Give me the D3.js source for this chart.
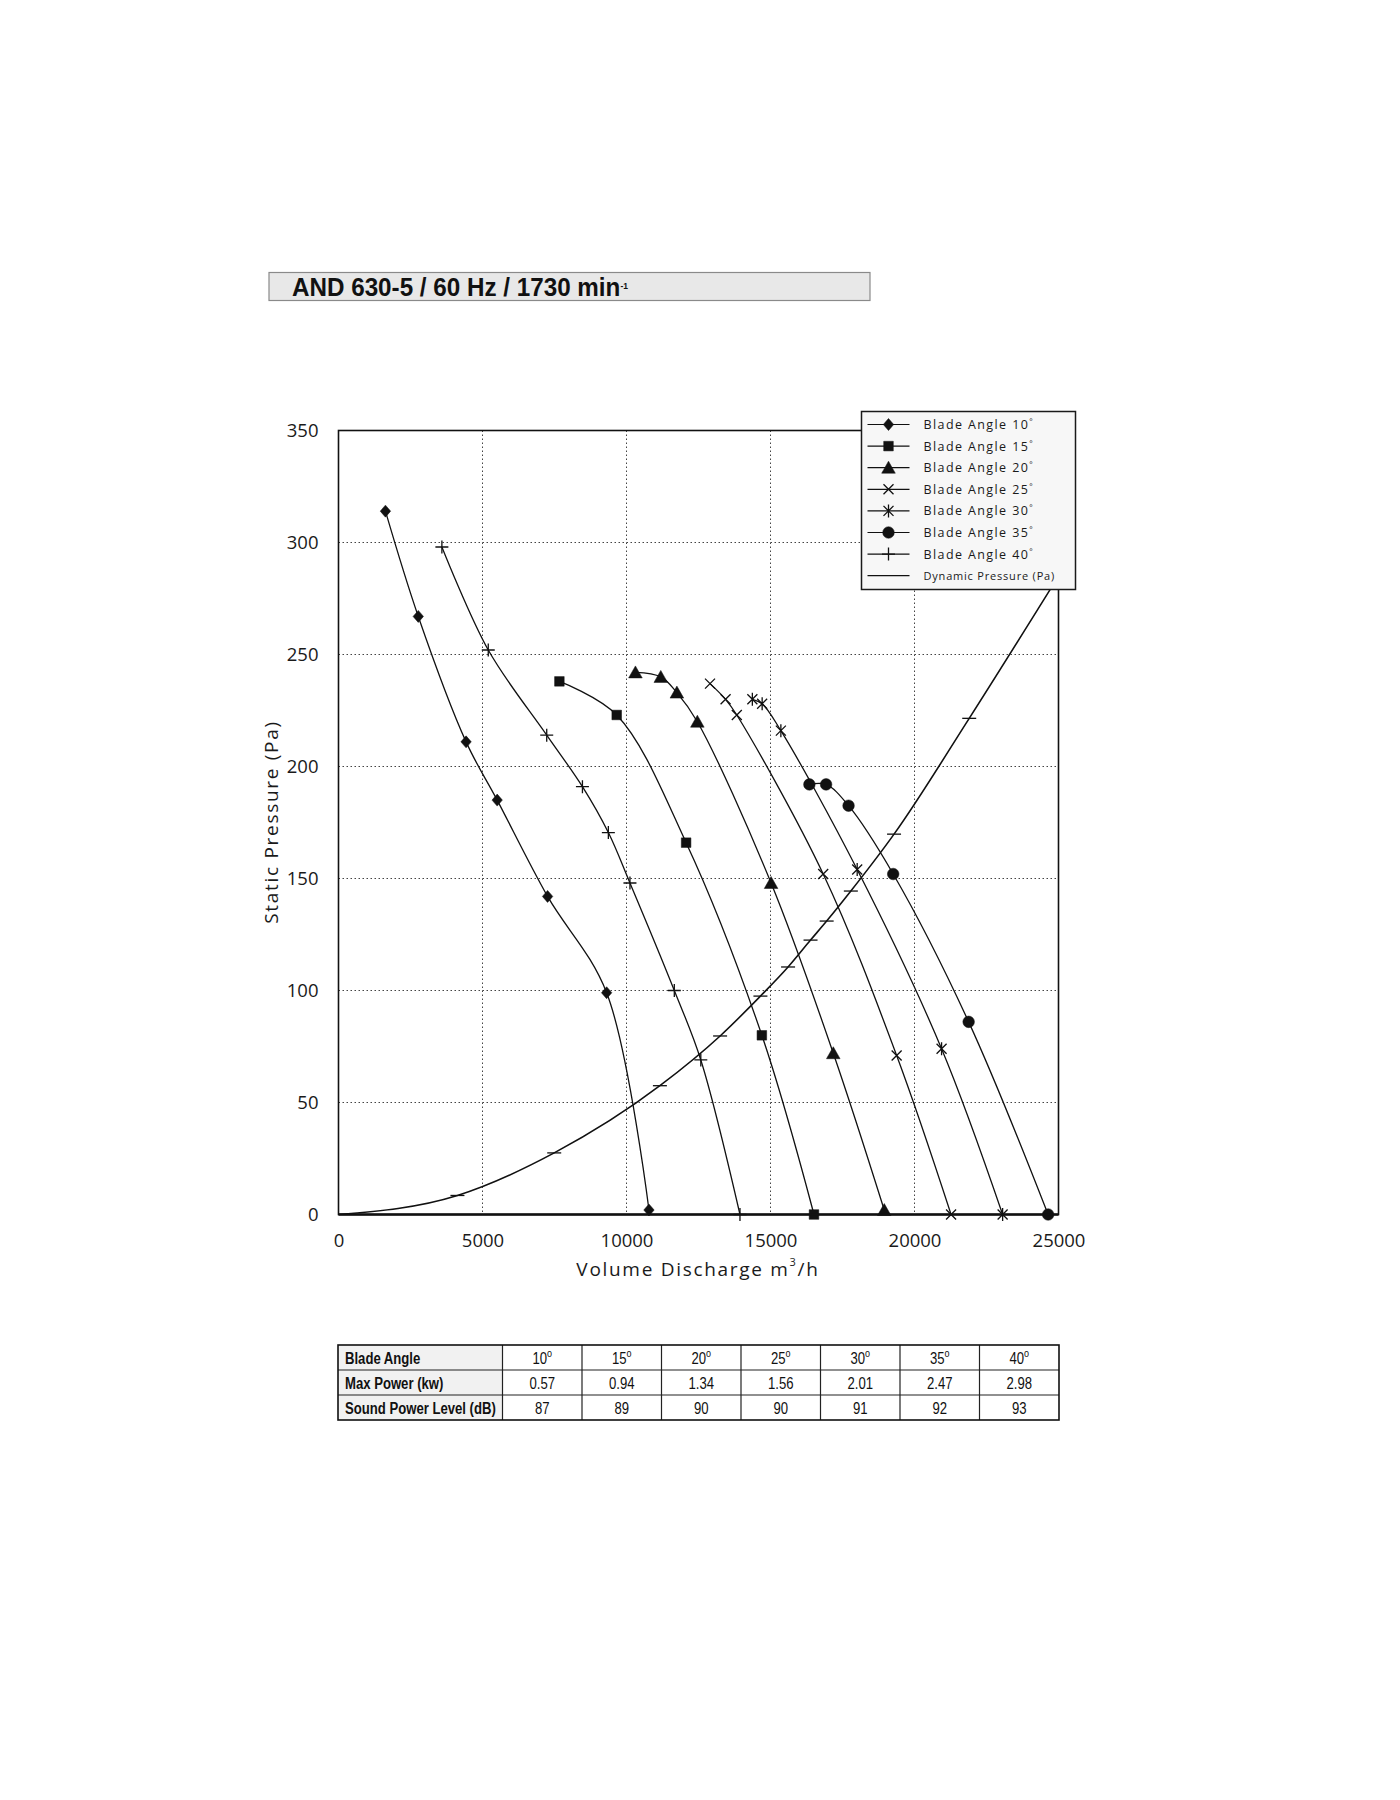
<!DOCTYPE html>
<html>
<head>
<meta charset="utf-8">
<script src="https://cdn.jsdelivr.net/npm/d3@7"></script>
<style>
  body { margin: 0; background: #fff; }
  svg { display: block; }
</style>
</head>
<body>
<svg id="chart" width="1400" height="1800"></svg>
<script>
// Volume discharge (m3/h) / static pressure (Pa)
const blade10 = [[1630, 314], [2770, 267], [4430, 211], [5510, 185], [7260, 142], [9310, 99], [10780, 2]];
const blade15 = [[7670, 238], [9660, 223], [12070, 166], [14700, 80], [16510, 0]];
const blade20 = [[10310, 242], [11190, 240], [11750, 233], [12460, 220], [15020, 148], [17180, 72], [18950, 2]];
const blade25 = [[12900, 237], [13440, 230], [13830, 223], [16830, 152], [19380, 71], [21270, 0]];
const blade30 = [[14370, 230], [14710, 228], [15360, 216], [18010, 154], [20940, 74], [23060, 0]];
const blade35 = [[16350, 192], [16930, 192], [17710, 182.5], [19260, 152], [21880, 86], [24640, 0]];
const blade40 = [[3590, 298], [5200, 252], [7230, 214], [8470, 191], [9370, 170.5], [10120, 148],
  [11660, 100], [12580, 69], [13940, 0]];
const dynamicPressure = [[0, 0], [4130, 8.5], [7490, 27.5], [11160, 57.5], [13250, 79.7], [14650, 97.5],
  [15610, 110.5], [16390, 122.5], [16950, 131], [17790, 144.4], [19290, 169.8], [21900, 221.5], [25000, 285]];

const seriesNames = ['Blade Angle 10', 'Blade Angle 15', 'Blade Angle 20', 'Blade Angle 25',
  'Blade Angle 30', 'Blade Angle 35', 'Blade Angle 40'];
const seriesData = [blade10, blade15, blade20, blade25, blade30, blade35, blade40];
const seriesMarkers = ['diamond', 'square', 'triangle', 'cross', 'asterisk', 'circle', 'plus'];

const xTicks = [0, 5000, 10000, 15000, 20000, 25000];
const yTicks = [0, 50, 100, 150, 200, 250, 300, 350];

// table below the chart
const bladeAngles = ['10', '15', '20', '25', '30', '35', '40'];
const maxPower = ['0.57', '0.94', '1.34', '1.56', '2.01', '2.47', '2.98'];
const soundPower = ['87', '89', '90', '90', '91', '92', '93'];

const numFont = '"Open Sans", "DejaVu Sans", sans-serif';
const narrowFont = '"Liberation Sans Narrow", "Arial Narrow", "Liberation Sans", Arial, sans-serif';

const svg = d3.select('#chart');

const plot = {left: 338.5, right: 1058.5, top: 430.5, bottom: 1214.5};

const x = d3.scaleLinear().domain([0, 25000]).range([plot.left, plot.right]);
const y = d3.scaleLinear().domain([0, 350]).range([plot.bottom, plot.top]);

// --- title bar
const title = svg.append('g');
title.append('rect')
  .attr('x', 269).attr('y', 272.5)
  .attr('width', 601).attr('height', 28)
  .attr('fill', '#e8e8e8')
  .attr('stroke', '#8a8a8a')
  .attr('stroke-width', 1.2);
const titleText = title.append('text')
  .attr('transform', 'translate(292,296) scale(0.95,1)')
  .attr('font-family', narrowFont)
  .attr('font-weight', 'bold')
  .attr('font-size', 25.5)
  .attr('fill', '#111')
  .text('AND 630-5 / 60 Hz / 1730 min');
titleText.append('tspan')
  .attr('font-size', 9)
  .attr('dy', -7)
  .text('-1');

// --- grid
const grid = svg.append('g')
  .attr('stroke', '#444')
  .attr('stroke-width', 1)
  .attr('stroke-dasharray', '1.5,2.5');

grid.selectAll('.vgrid')
  .data(xTicks.slice(1, -1))
  .enter()
  .append('line')
  .attr('x1', (d) => x(d)).attr('x2', (d) => x(d))
  .attr('y1', plot.top).attr('y2', plot.bottom);

grid.selectAll('.hgrid')
  .data(yTicks.slice(1, -1))
  .enter()
  .append('line')
  .attr('x1', plot.left).attr('x2', plot.right)
  .attr('y1', (d) => y(d)).attr('y2', (d) => y(d));

// --- axes (labels only, frame drawn separately)
const xAxis = svg.append('g')
  .attr('transform', `translate(0,${plot.bottom})`)
  .call(d3.axisBottom(x).tickValues(xTicks).tickSize(0).tickPadding(19).tickFormat(d3.format('d')));
const yAxis = svg.append('g')
  .attr('transform', `translate(${plot.left},0)`)
  .call(d3.axisLeft(y).tickValues(yTicks).tickSize(0).tickPadding(20));

[xAxis, yAxis].forEach((axis) => {
  axis.select('.domain').remove();
  axis.selectAll('text')
    .attr('font-family', numFont)
    .attr('font-size', 18.5)
    .attr('fill', '#1a1a1a');
});

// axis titles
const xTitle = svg.append('text')
  .attr('x', 698).attr('y', 1276)
  .attr('text-anchor', 'middle')
  .attr('font-family', numFont)
  .attr('font-size', 19)
  .attr('letter-spacing', 1.7)
  .attr('fill', '#1a1a1a')
  .text('Volume Discharge m');
xTitle.append('tspan').attr('font-size', 11).attr('dy', -10).text('3');
xTitle.append('tspan').attr('dy', 10).text('/h');

svg.append('text')
  .attr('transform', 'translate(278,822) rotate(-90)')
  .attr('text-anchor', 'middle')
  .attr('font-family', numFont)
  .attr('font-size', 19)
  .attr('letter-spacing', 1.7)
  .attr('fill', '#1a1a1a')
  .text('Static Pressure (Pa)');

// --- curves
svg.append('defs')
  .append('clipPath')
  .attr('id', 'plot-cp')
  .append('rect')
  .attr('x', plot.left).attr('y', plot.top)
  .attr('width', plot.right - plot.left)
  .attr('height', plot.bottom - plot.top);

const bladeLine = d3.line()
  .x((d) => x(d[0]))
  .y((d) => y(d[1]))
  .curve(d3.curveCatmullRom.alpha(0.5));

const dynLine = d3.line()
  .x((d) => x(d[0]))
  .y((d) => y(d[1]))
  .curve(d3.curveMonotoneX);

const curves = svg.append('g').attr('clip-path', 'url(#plot-cp)');

curves.selectAll('.blade')
  .data(seriesData)
  .enter()
  .append('path')
  .attr('class', 'blade')
  .attr('d', bladeLine)
  .attr('fill', 'none')
  .attr('stroke', '#111')
  .attr('stroke-width', 1.3);

curves.append('path')
  .datum(dynamicPressure)
  .attr('d', dynLine)
  .attr('fill', 'none')
  .attr('stroke', '#111')
  .attr('stroke-width', 1.6);

// --- markers
function markerPath(type) {
  const p = d3.path();
  switch (type) {
    case 'diamond':
      p.moveTo(0, -6); p.lineTo(5.2, 0); p.lineTo(0, 6); p.lineTo(-5.2, 0); p.closePath();
      break;
    case 'square':
      p.rect(-4.8, -4.8, 9.6, 9.6);
      break;
    case 'triangle':
      p.moveTo(0, -6.5); p.lineTo(6.8, 5.5); p.lineTo(-6.8, 5.5); p.closePath();
      break;
    case 'circle':
      p.arc(0, 0, 5.8, 0, 2 * Math.PI);
      break;
    case 'cross':
      p.moveTo(-5, -5); p.lineTo(5, 5); p.moveTo(5, -5); p.lineTo(-5, 5);
      break;
    case 'asterisk':
      p.moveTo(-5, -5); p.lineTo(5, 5); p.moveTo(5, -5); p.lineTo(-5, 5);
      p.moveTo(0, -6.5); p.lineTo(0, 6.5);
      break;
    case 'plus':
      p.moveTo(-6.5, 0); p.lineTo(6.5, 0); p.moveTo(0, -6.5); p.lineTo(0, 6.5);
      break;
    case 'dash':
      p.moveTo(-7, 0); p.lineTo(7, 0);
      break;
  }
  return p.toString();
}
const filledMarkers = ['diamond', 'square', 'triangle', 'circle'];

function styleMarker(sel, type) {
  const filled = filledMarkers.includes(type);
  sel.attr('d', markerPath(type))
    .attr('fill', filled ? '#111' : 'none')
    .attr('stroke', '#111')
    .attr('stroke-width', filled ? 0.5 : 1.3);
}

seriesData.forEach((data, i) => {
  svg.append('g')
    .selectAll('path')
    .data(data)
    .enter()
    .append('path')
    .attr('transform', (d) => `translate(${x(d[0])},${y(d[1])})`)
    .call(styleMarker, seriesMarkers[i]);
});

svg.append('g')
  .selectAll('path')
  .data(dynamicPressure.slice(1, -1))
  .enter()
  .append('path')
  .attr('transform', (d) => `translate(${x(d[0])},${y(d[1])})`)
  .call(styleMarker, 'dash');

// --- plot frame
svg.append('rect')
  .attr('x', plot.left).attr('y', plot.top)
  .attr('width', plot.right - plot.left)
  .attr('height', plot.bottom - plot.top)
  .attr('fill', 'none')
  .attr('stroke', '#111')
  .attr('stroke-width', 1.6);
svg.append('line')
  .attr('x1', plot.left).attr('x2', plot.right)
  .attr('y1', plot.bottom).attr('y2', plot.bottom)
  .attr('stroke', '#111')
  .attr('stroke-width', 2.6);

// --- legend
const legend = svg.append('g').attr('transform', 'translate(861.5,411.5)');
legend.append('rect')
  .attr('width', 214).attr('height', 178)
  .attr('fill', '#f7f7f7')
  .attr('stroke', '#1a1a1a')
  .attr('stroke-width', 1.5);

const legendNames = seriesNames.concat(['Dynamic Pressure (Pa)']);
const legendMarkers = seriesMarkers.concat([null]);

const item = legend.selectAll('.item')
  .data(legendNames)
  .enter()
  .append('g')
  .attr('class', 'item')
  .attr('transform', (d, i) => `translate(0,${13 + i * 21.6})`);

item.append('line')
  .attr('x1', 6).attr('x2', 48)
  .attr('stroke', '#111')
  .attr('stroke-width', 1.2);

item.filter((d, i) => legendMarkers[i])
  .append('path')
  .attr('transform', 'translate(27,0)')
  .each(function(d, i) {
    // eslint-disable-next-line no-invalid-this
    d3.select(this).call(styleMarker, legendMarkers[i]);
  });

const legendText = item.append('text')
  .attr('x', 62).attr('y', 4.5)
  .attr('font-family', numFont)
  .attr('font-size', (d, i) => (legendMarkers[i] ? 12.5 : 11))
  .attr('letter-spacing', (d, i) => (legendMarkers[i] ? 1.4 : 0.8))
  .attr('fill', '#1a1a1a')
  .text((d) => d);
legendText.filter((d, i) => legendMarkers[i])
  .append('tspan')
  .attr('font-size', 8)
  .attr('dy', -5)
  .text('°');

// --- table
const table = svg.append('g');
const tableX = 338;
const tableY = 1345;
const firstColW = 164.5;
const colW = 79.5;
const rowH = 25;
const rowLabels = ['Blade Angle', 'Max Power (kw)', 'Sound Power Level (dB)'];
const rowValues = [bladeAngles, maxPower, soundPower];
const tableW = firstColW + colW * bladeAngles.length;
const narrowScale = 0.82;

table.append('rect')
  .attr('x', tableX).attr('y', tableY)
  .attr('width', firstColW).attr('height', rowH * rowLabels.length)
  .attr('fill', '#f1f1f1');

const cellLines = table.append('g').attr('stroke', '#222').attr('stroke-width', 1.2);
d3.range(1, rowLabels.length).forEach((r) => {
  cellLines.append('line')
    .attr('x1', tableX).attr('x2', tableX + tableW)
    .attr('y1', tableY + r * rowH).attr('y2', tableY + r * rowH);
});
d3.range(0, bladeAngles.length).forEach((c) => {
  const cx = tableX + firstColW + c * colW;
  cellLines.append('line')
    .attr('x1', cx).attr('x2', cx)
    .attr('y1', tableY).attr('y2', tableY + rowH * rowLabels.length);
});
table.append('rect')
  .attr('x', tableX).attr('y', tableY)
  .attr('width', tableW).attr('height', rowH * rowLabels.length)
  .attr('fill', 'none')
  .attr('stroke', '#111')
  .attr('stroke-width', 1.6);

rowLabels.forEach((label, r) => {
  const baseY = tableY + r * rowH + 18.5;
  table.append('text')
    .attr('transform', `translate(${tableX + 7},${baseY}) scale(${narrowScale},1)`)
    .attr('font-family', narrowFont)
    .attr('font-weight', 'bold')
    .attr('font-size', 16)
    .attr('fill', '#111')
    .text(label);

  const cells = table.selectAll(`.cell-${r}`)
    .data(rowValues[r])
    .enter()
    .append('text')
    .attr('class', `cell-${r}`)
    .attr('transform', (d, c) =>
      `translate(${tableX + firstColW + c * colW + colW / 2},${baseY}) scale(${narrowScale},1)`)
    .attr('text-anchor', 'middle')
    .attr('font-family', narrowFont)
    .attr('font-size', 16)
    .attr('fill', '#111')
    .text((d) => d);
  if (r === 0) {
    cells.append('tspan')
      .attr('font-size', 11)
      .attr('dy', -7)
      .text('o');
  }
});
</script>
</body>
</html>
